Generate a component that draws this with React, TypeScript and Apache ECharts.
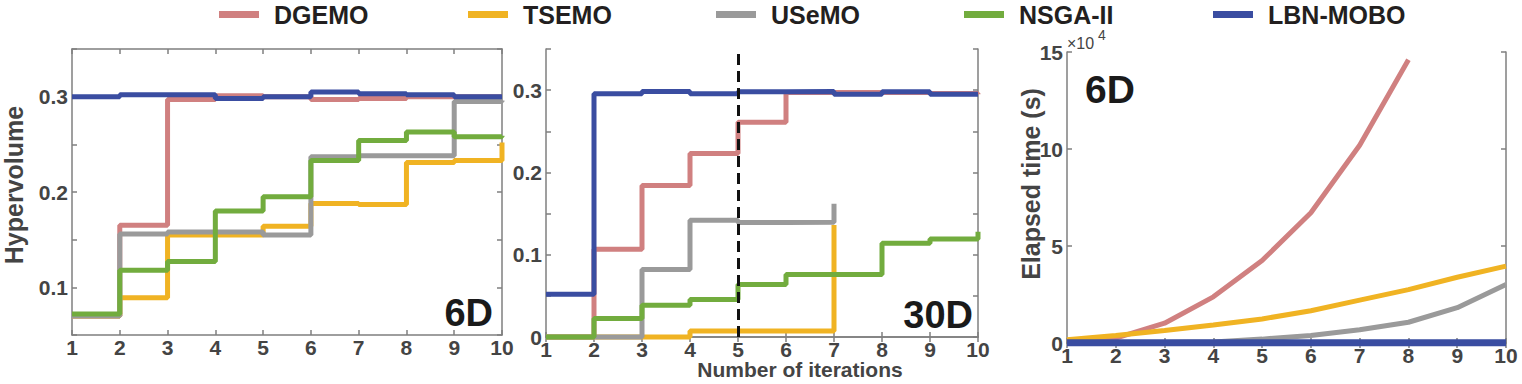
import React, { useEffect, useRef } from 'react';
import * as echarts from 'echarts';

// ---------- data ----------
const ITERATIONS = [1, 2, 3, 4, 5, 6, 7, 8, 9, 10];
const METHODS = ['DGEMO', 'TSEMO', 'USeMO', 'NSGA-II', 'LBN-MOBO'];
const COLORS = ['#D08080', '#F0B323', '#9A9A9A', '#72AC3E', '#3A4DA1'];

// Hypervolume, 6D problem
const HV6_DGEMO = [0.07, 0.165, 0.297, 0.301, 0.3, 0.297, 0.298, 0.3, 0.3, 0.3];
const HV6_TSEMO = [0.07, 0.089, 0.155, 0.155, 0.164, 0.188, 0.187, 0.231, 0.233, 0.252];
const HV6_USEMO = [0.07, 0.156, 0.158, 0.158, 0.155, 0.237, 0.238, 0.238, 0.295, 0.296];
const HV6_NSGA = [0.072, 0.118, 0.127, 0.18, 0.195, 0.233, 0.254, 0.263, 0.258, 0.259];
const HV6_LBN = [0.3, 0.302, 0.302, 0.298, 0.3, 0.305, 0.303, 0.302, 0.3, 0.3];

// Hypervolume, 30D problem
const HV30_DGEMO = [0, 0.1065, 0.184, 0.223, 0.261, 0.297, 0.297, 0.297, 0.296, 0.295];
const HV30_TSEMO = [0, 0, 0, 0.0073, 0.0073, 0.0073, 0.136];
const HV30_USEMO = [0, 0, 0.082, 0.142, 0.139, 0.1395, 0.162];
const HV30_NSGA = [0, 0.0224, 0.0387, 0.0455, 0.0638, 0.076, 0.076, 0.1138, 0.119, 0.128];
const HV30_LBN = [0.052, 0.2956, 0.2984, 0.2956, 0.298, 0.2984, 0.295, 0.298, 0.295, 0.295];
const THRESHOLD_ITER = 5;

// Elapsed time (s), 6D problem
const TIME_DGEMO = [1000, 2500, 10200, 23800, 42500, 67100, 101900, 146000];
const TIME_TSEMO = [1700, 3900, 6400, 9300, 12400, 16600, 22100, 27500, 33900, 39600];
const TIME_USEMO = [0, 100, 200, 500, 2000, 3900, 6800, 10700, 18200, 30200];
const TIME_LBN = [100, 100, 100, 100, 100, 100, 100, 100, 100, 100];

const PANEL_LABELS = ['6D', '30D', '6D'];

const FONT = 'Liberation Sans';
const AXIS_COLOR = '#7f7f7f';
const LABEL_COLOR = '#444444';

function pairs(vals: number[]) {
  return vals.map((v, i) => [ITERATIONS[i], v]);
}

export default function App() {
  const ref = useRef<HTMLDivElement>(null);

  useEffect(() => {
    document.body.style.margin = '0';
    if (!ref.current) return;
    const chart = echarts.init(ref.current, undefined, { renderer: 'svg' });

    const grids = [
      { left: 72, top: 49, width: 430, height: 286 },
      { left: 546, top: 49, width: 432, height: 288 },
      { left: 1067, top: 52, width: 439, height: 291 },
    ];

    const hvFormatter = (v: number) => {
      const k = Math.round(v * 100);
      if (k === 0) return '0';
      return k % 10 === 0 ? (k / 100).toFixed(1) : '';
    };

    const yRanges = [
      { min: 0.05, max: 0.35, interval: 0.05, formatter: hvFormatter },
      { min: 0, max: 0.35, interval: 0.05, formatter: hvFormatter },
      { min: 0, max: 150000, interval: 50000, formatter: (v: number) => String(Math.round(v / 10000)) },
    ];

    const axisLine = { show: true, lineStyle: { color: AXIS_COLOR, width: 1.5 } };
    const axisTick = { show: true, inside: true, length: 5, lineStyle: { color: AXIS_COLOR, width: 1.5 } };

    const xAxes: any[] = [];
    const yAxes: any[] = [];
    for (const pos of ['bottom', 'top']) {
      grids.forEach((_, i) => {
        xAxes.push({
          type: 'value', gridIndex: i, position: pos, min: 1, max: 10, interval: 1,
          axisLine, axisTick, splitLine: { show: false },
          axisLabel: {
            show: pos === 'bottom', color: LABEL_COLOR, fontSize: 21, fontWeight: 'bold',
            fontFamily: FONT, margin: 4, lineHeight: 16,
          },
        });
      });
    }
    for (const pos of ['left', 'right']) {
      grids.forEach((_, i) => {
        const r = yRanges[i];
        yAxes.push({
          type: 'value', gridIndex: i, position: pos, min: r.min, max: r.max, interval: r.interval,
          axisLine, axisTick, splitLine: { show: false },
          axisLabel: {
            show: pos === 'left', color: LABEL_COLOR, fontSize: 21, fontWeight: 'bold',
            fontFamily: FONT, margin: 4, lineHeight: 16, formatter: r.formatter,
          },
        });
      });
    }

    const hv6 = [HV6_DGEMO, HV6_TSEMO, HV6_USEMO, HV6_NSGA, HV6_LBN];
    const hv30 = [HV30_DGEMO, HV30_TSEMO, HV30_USEMO, HV30_NSGA, HV30_LBN];
    const times: (number[] | null)[] = [TIME_DGEMO, TIME_TSEMO, TIME_USEMO, null, TIME_LBN];

    const series: any[] = [];
    [hv6, hv30].forEach((set, g) => {
      set.forEach((vals, k) => {
        const s: any = {
          type: 'line', name: METHODS[k], xAxisIndex: g, yAxisIndex: g,
          data: pairs(vals), step: 'end', showSymbol: false, symbol: 'none',
          color: COLORS[k], lineStyle: { color: COLORS[k], width: 5 }, clip: false,
        };
        if (g === 1 && k === 4) {
          s.markLine = {
            silent: true, symbol: ['none', 'none'], label: { show: false },
            lineStyle: { color: '#111111', width: 3, type: [11, 6] },
            data: [{ xAxis: THRESHOLD_ITER }],
          };
        }
        series.push(s);
      });
    });
    times.forEach((vals, k) => {
      if (!vals) return;
      series.push({
        type: 'line', name: METHODS[k], xAxisIndex: 2, yAxisIndex: 2,
        data: pairs(vals), showSymbol: false, symbol: 'none',
        color: COLORS[k], lineStyle: { color: COLORS[k], width: k === 4 ? 7 : 5 }, clip: false,
      });
    });

    const legendX = [219, 468, 716, 964, 1213];
    const legends = METHODS.map((m, i) => ({
      data: [m], left: legendX[i], top: 2, padding: 0, icon: 'rect',
      itemWidth: 40, itemHeight: 7, selectedMode: false,
      textStyle: { fontSize: 25, fontWeight: 'bold', color: '#231F20', fontFamily: FONT, padding: [0, 0, 0, 10] },
    }));

    const textStyle = (extra: any) => ({ fontFamily: FONT, fontWeight: 'bold', ...extra });

    chart.setOption({
      animation: false,
      backgroundColor: '#ffffff',
      grid: grids,
      xAxis: xAxes,
      yAxis: yAxes,
      legend: legends,
      series,
      graphic: [
        { type: 'text', x: 14, y: 185, rotation: Math.PI / 2,
          style: textStyle({ text: 'Hypervolume', fontSize: 25, lineHeight: 22, fill: LABEL_COLOR, align: 'center', verticalAlign: 'middle' }) },
        { type: 'text', x: 1031, y: 184, rotation: Math.PI / 2,
          style: textStyle({ text: 'Elapsed time (s)', fontSize: 25, lineHeight: 22, fill: LABEL_COLOR, align: 'center', verticalAlign: 'middle' }) },
        { type: 'text', x: 800, y: 369,
          style: textStyle({ text: 'Number of iterations', fontSize: 21, lineHeight: 18, fill: LABEL_COLOR, align: 'center', verticalAlign: 'middle' }) },
        { type: 'text', x: 493, y: 313,
          style: textStyle({ text: PANEL_LABELS[0], fontSize: 38, fill: '#1a1a1a', align: 'right', verticalAlign: 'middle' }) },
        { type: 'text', x: 973, y: 315,
          style: textStyle({ text: PANEL_LABELS[1], fontSize: 38, fill: '#1a1a1a', align: 'right', verticalAlign: 'middle' }) },
        { type: 'text', x: 1085, y: 89,
          style: textStyle({ text: PANEL_LABELS[2], fontSize: 39, fill: '#1a1a1a', align: 'left', verticalAlign: 'middle' }) },
        { type: 'text', x: 1067, y: 43,
          style: { text: '×10', fontFamily: FONT, fontSize: 16, fill: LABEL_COLOR, align: 'left', verticalAlign: 'middle' } },
        { type: 'text', x: 1098, y: 35,
          style: { text: '4', fontFamily: FONT, fontSize: 14, fill: LABEL_COLOR, align: 'left', verticalAlign: 'middle' } },
      ],
    });

    return () => chart.dispose();
  }, []);

  return <div ref={ref} style={{ width: 1522, height: 384 }} />;
}
